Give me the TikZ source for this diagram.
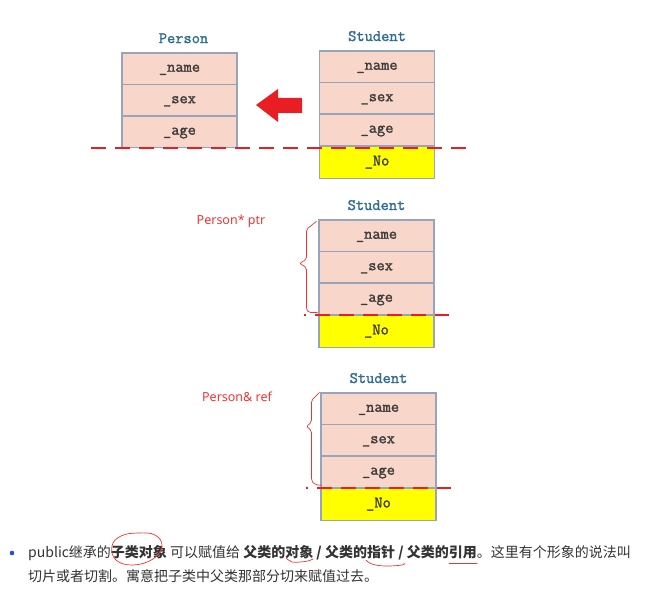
\documentclass[tikz,border=0pt]{standalone}
\usepackage{fontspec}
\usepackage{xcolor}
\usepackage{tikz}
\usetikzlibrary{calc,positioning}
\newfontfamily\fieldmono{Latin Modern Mono}[FakeBold=1.6]
\newfontfamily\notesans{Noto Sans}
\newfontfamily\cjk{Noto Sans CJK SC}
\definecolor{fieldfill}{RGB}{248,214,202}
\definecolor{fieldline}{RGB}{150,164,190}
\definecolor{fieldtext}{RGB}{60,60,60}
\definecolor{titleblue}{RGB}{46,108,150}
\definecolor{extrafill}{RGB}{255,255,0}
\definecolor{cutred}{RGB}{232,30,36}
\definecolor{penred}{RGB}{245,50,50}
\definecolor{bodytext}{RGB}{51,51,51}
\definecolor{bulletblue}{RGB}{30,80,220}
\tikzset{
  field/.style={draw=fieldline, line width=1.2pt, fill=fieldfill,
    minimum width=115pt, minimum height=31.5pt, inner sep=0pt,
    text height=8pt, text depth=2pt,
    text=fieldtext, font=\fieldmono\fontsize{16}{18}\selectfont},
  extrafield/.style={field, fill=extrafill},
  classtitle/.style={inner sep=0pt, text=titleblue,
    font=\fieldmono\fontsize{16}{18}\selectfont},
  cutline/.style={cutred, line width=1.5pt, dash pattern=on 15pt off 9pt},
  penmark/.style={penred, line width=0.7pt, line cap=round, line join=round},
  redlabel/.style={inner sep=0pt, text=penred,
    font=\notesans\fontsize{12.5}{14}\selectfont},
  bodyline/.style={anchor=west, inner sep=0pt, text=bodytext,
    font=\cjk\fontsize{14}{16}\selectfont},
}

\begin{document}
\begin{tikzpicture}[x=1pt, y=-1pt]
% Page frame in pixel units, y pointing down.
\useasboundingbox (0,0) rectangle (662,591);
\def\rowh{31.5}
% Parent object: Person with three fields
\foreach \f [count=\r from 0] in {name,sex,age}
  \node[field] (p-\f) at (179.5, {53+\rowh*(\r+0.5)}) {\_\f};
\node[classtitle, above=9pt of p-name, xshift=4pt] (p-title) {Person};
% Three Student objects: inherited fields plus _No
\foreach \k/\cx/\top in {s1/377/51, s2/376.5/220, s3/378.5/393} {
  \foreach \f [count=\r from 0] in {name,sex,age}
    \node[field] (\k-\f) at (\cx, {\top+\rowh*(\r+0.5)}) {\_\f};
  \node[extrafield, below=0pt of \k-age] (\k-No) {\_No};
  \node[classtitle, above=9pt of \k-name] (\k-title) {Student};
}
% Block arrow: Student is assigned to Person
\fill[cutred] (256,105) -- (278,89) -- (278,98) -- (302,98)
  -- (302,113) -- (278,113) -- (278,122) -- cycle;
% Slicing lines under the Person part
\draw[cutline] ([xshift=-30pt]p-age.south west)
  -- ($(p-age.south west -| s1-age.east)+(34,0)$);
\draw[cutline, dash phase=13pt] ([xshift=-14pt]s2-age.south west)
  -- ([xshift=14pt]s2-age.south east);
\draw[cutline, dash phase=13pt] ([xshift=-14pt]s3-age.south west)
  -- ([xshift=14pt]s3-age.south east);
% Hand-drawn braces and their labels
\draw[penmark, rounded corners=2pt] ([shift={(-2,2)}]s2-name.north west)
  -- ++(-10,8) -- ++(0,30) -- ++(-7,4) -- ++(7,4) -- ++(0,42)
  -- ++(2,3) -- ++(9,0);
\node[redlabel] (ptr) at (231,221) {Person* ptr};
\draw[penmark, rounded corners=2pt] ([shift={(-1,0)}]s3-name.north west)
  -- ++(-8,8) -- ++(0,22) -- ++(-5,4) -- ++(5,4) -- ++(0,50)
  -- ++(3,4) -- ++(7,1);
\node[redlabel] (ref) at (237,397) {Person\& ref};
% Note underneath
\node[circle, fill=bulletblue, inner sep=0pt, minimum size=4.6pt] (bullet) at (12,553) {};
\node[bodyline] (line1) at (28,553)
  {public继承的\textbf{子类对象} 可以赋值给 \textbf{父类的对象 / 父类的指针 / 父类的引用}。这里有个形象的说法叫};
\node[bodyline] (line2) at (28,576)
  {切片或者切割。寓意把子类中父类那部分切来赋值过去。};
% Pen marks over the note
\draw[penmark] plot[smooth cycle, tension=0.7] coordinates
  {(112,546) (121,536) (138,533) (155,535) (162,546) (153,559) (133,565) (116,560)};
\draw[penmark] plot[smooth, tension=0.7] coordinates
  {(286,558) (292,562) (300,562) (308,561) (313,559)};
\draw[penmark] plot[smooth, tension=0.7] coordinates
  {(366,560) (372,564) (385,566) (402,565) (404,563)};
\draw[penmark] (449,563) -- (477,563);
\end{tikzpicture}
\end{document}
